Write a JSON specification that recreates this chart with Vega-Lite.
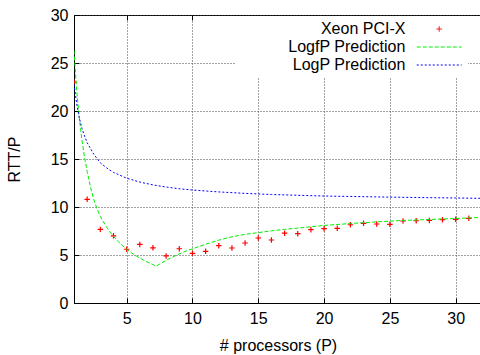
{
  "$schema": "https://vega.github.io/schema/vega-lite/v6.json",
  "width": 408,
  "height": 288,
  "autosize": {"type": "none"},
  "padding": {"left": 74, "top": 15, "right": 0, "bottom": 52},
  "background": "white",
  "data": {
    "values": [
      {"series": "Xeon PCI-X", "P": 1, "v": 23.0},
      {"series": "Xeon PCI-X", "P": 2, "v": 10.8},
      {"series": "Xeon PCI-X", "P": 3, "v": 7.67},
      {"series": "Xeon PCI-X", "P": 4, "v": 7.0},
      {"series": "Xeon PCI-X", "P": 5, "v": 5.6},
      {"series": "Xeon PCI-X", "P": 6, "v": 6.1},
      {"series": "Xeon PCI-X", "P": 7, "v": 5.75},
      {"series": "Xeon PCI-X", "P": 8, "v": 4.9},
      {"series": "Xeon PCI-X", "P": 9, "v": 5.65},
      {"series": "Xeon PCI-X", "P": 10, "v": 5.17},
      {"series": "Xeon PCI-X", "P": 11, "v": 5.38},
      {"series": "Xeon PCI-X", "P": 12, "v": 5.97},
      {"series": "Xeon PCI-X", "P": 13, "v": 5.73},
      {"series": "Xeon PCI-X", "P": 14, "v": 6.25},
      {"series": "Xeon PCI-X", "P": 15, "v": 6.77},
      {"series": "Xeon PCI-X", "P": 16, "v": 6.56},
      {"series": "Xeon PCI-X", "P": 17, "v": 7.27},
      {"series": "Xeon PCI-X", "P": 18, "v": 7.22},
      {"series": "Xeon PCI-X", "P": 19, "v": 7.64},
      {"series": "Xeon PCI-X", "P": 20, "v": 7.74},
      {"series": "Xeon PCI-X", "P": 21, "v": 7.78},
      {"series": "Xeon PCI-X", "P": 22, "v": 8.15},
      {"series": "Xeon PCI-X", "P": 23, "v": 8.3},
      {"series": "Xeon PCI-X", "P": 24, "v": 8.23},
      {"series": "Xeon PCI-X", "P": 25, "v": 8.2},
      {"series": "Xeon PCI-X", "P": 26, "v": 8.54},
      {"series": "Xeon PCI-X", "P": 27, "v": 8.57},
      {"series": "Xeon PCI-X", "P": 28, "v": 8.6},
      {"series": "Xeon PCI-X", "P": 29, "v": 8.68},
      {"series": "Xeon PCI-X", "P": 30, "v": 8.72},
      {"series": "Xeon PCI-X", "P": 31, "v": 8.82},

      {"series": "LogfP Prediction", "P": 1, "v": 26.3},
      {"series": "LogfP Prediction", "P": 1.2, "v": 22.2},
      {"series": "LogfP Prediction", "P": 1.4, "v": 19.3},
      {"series": "LogfP Prediction", "P": 1.6, "v": 17.0},
      {"series": "LogfP Prediction", "P": 1.8, "v": 15.2},
      {"series": "LogfP Prediction", "P": 2, "v": 13.7},
      {"series": "LogfP Prediction", "P": 2.25, "v": 12.1},
      {"series": "LogfP Prediction", "P": 2.5, "v": 10.8},
      {"series": "LogfP Prediction", "P": 2.75, "v": 9.8},
      {"series": "LogfP Prediction", "P": 3, "v": 9.0},
      {"series": "LogfP Prediction", "P": 3.5, "v": 7.85},
      {"series": "LogfP Prediction", "P": 4, "v": 6.95},
      {"series": "LogfP Prediction", "P": 4.5, "v": 6.2},
      {"series": "LogfP Prediction", "P": 5, "v": 5.6},
      {"series": "LogfP Prediction", "P": 5.5, "v": 5.1},
      {"series": "LogfP Prediction", "P": 6, "v": 4.68},
      {"series": "LogfP Prediction", "P": 6.5, "v": 4.32},
      {"series": "LogfP Prediction", "P": 7, "v": 4.0},
      {"series": "LogfP Prediction", "P": 7.2, "v": 3.82},
      {"series": "LogfP Prediction", "P": 7.5, "v": 4.05},
      {"series": "LogfP Prediction", "P": 8, "v": 4.45},
      {"series": "LogfP Prediction", "P": 8.5, "v": 4.8},
      {"series": "LogfP Prediction", "P": 9, "v": 5.12},
      {"series": "LogfP Prediction", "P": 9.5, "v": 5.4},
      {"series": "LogfP Prediction", "P": 10, "v": 5.65},
      {"series": "LogfP Prediction", "P": 11, "v": 6.12},
      {"series": "LogfP Prediction", "P": 12, "v": 6.55},
      {"series": "LogfP Prediction", "P": 13, "v": 6.9},
      {"series": "LogfP Prediction", "P": 14, "v": 7.15},
      {"series": "LogfP Prediction", "P": 15, "v": 7.33},
      {"series": "LogfP Prediction", "P": 16, "v": 7.52},
      {"series": "LogfP Prediction", "P": 17, "v": 7.67},
      {"series": "LogfP Prediction", "P": 18, "v": 7.8},
      {"series": "LogfP Prediction", "P": 19, "v": 7.94},
      {"series": "LogfP Prediction", "P": 20, "v": 8.08},
      {"series": "LogfP Prediction", "P": 22, "v": 8.28},
      {"series": "LogfP Prediction", "P": 24, "v": 8.45},
      {"series": "LogfP Prediction", "P": 26, "v": 8.6},
      {"series": "LogfP Prediction", "P": 28, "v": 8.7},
      {"series": "LogfP Prediction", "P": 30, "v": 8.8},
      {"series": "LogfP Prediction", "P": 32, "v": 8.92},

      {"series": "LogP Prediction", "P": 1, "v": 22.8},
      {"series": "LogP Prediction", "P": 1.2, "v": 20.8},
      {"series": "LogP Prediction", "P": 1.4, "v": 19.3},
      {"series": "LogP Prediction", "P": 1.6, "v": 18.2},
      {"series": "LogP Prediction", "P": 1.8, "v": 17.4},
      {"series": "LogP Prediction", "P": 2, "v": 16.7},
      {"series": "LogP Prediction", "P": 2.5, "v": 15.5},
      {"series": "LogP Prediction", "P": 3, "v": 14.6},
      {"series": "LogP Prediction", "P": 3.5, "v": 14.05},
      {"series": "LogP Prediction", "P": 4, "v": 13.6},
      {"series": "LogP Prediction", "P": 5, "v": 13.0},
      {"series": "LogP Prediction", "P": 6, "v": 12.6},
      {"series": "LogP Prediction", "P": 7, "v": 12.3},
      {"series": "LogP Prediction", "P": 8, "v": 12.08},
      {"series": "LogP Prediction", "P": 9, "v": 11.9},
      {"series": "LogP Prediction", "P": 10, "v": 11.77},
      {"series": "LogP Prediction", "P": 12, "v": 11.57},
      {"series": "LogP Prediction", "P": 14, "v": 11.42},
      {"series": "LogP Prediction", "P": 16, "v": 11.3},
      {"series": "LogP Prediction", "P": 18, "v": 11.22},
      {"series": "LogP Prediction", "P": 20, "v": 11.14},
      {"series": "LogP Prediction", "P": 22, "v": 11.1},
      {"series": "LogP Prediction", "P": 24, "v": 11.05},
      {"series": "LogP Prediction", "P": 26, "v": 11.01},
      {"series": "LogP Prediction", "P": 28, "v": 10.97},
      {"series": "LogP Prediction", "P": 30, "v": 10.94},
      {"series": "LogP Prediction", "P": 32, "v": 10.9}
    ]
  },
  "config": {
    "font": "Liberation Sans",
    "view": {"stroke": "black", "strokeWidth": 1},
    "axis": {
      "labelFont": "Liberation Sans",
      "labelFontSize": 16,
      "labelColor": "black",
      "titleFont": "Liberation Sans",
      "titleFontSize": 16,
      "titleFontWeight": "normal",
      "titleColor": "black",
      "domainColor": "black",
      "tickColor": "black",
      "gridColor": "#444444",
      "gridDash": [1, 2],
      "gridOpacity": 1
    },
    "legend": {
      "labelFont": "Liberation Sans",
      "labelFontSize": 16,
      "labelColor": "black"
    }
  },
  "layer": [
    {
      "transform": [{"filter": "datum.series === 'Xeon PCI-X'"}],
      "mark": {"type": "point", "filled": false, "size": 276, "strokeWidth": 1.2, "opacity": 1, "clip": true},
      "encoding": {
        "x": {"field": "P", "type": "quantitative",
          "scale": {"domain": [1, 32], "nice": false, "zero": false},
          "axis": {"orient": "bottom", "values": [5, 10, 15, 20, 25, 30], "title": "# processors (P)", "grid": true,
            "tickSize": -5, "labelPadding": 12, "titlePadding": 11, "domain": true, "labelFlush": false}},
        "y": {"field": "v", "type": "quantitative",
          "scale": {"domain": [0, 30], "nice": false, "zero": false},
          "axis": {"orient": "left", "values": [0, 5, 10, 15, 20, 25, 30], "title": "RTT/P", "grid": true,
            "tickSize": -5, "labelPadding": 11, "titlePadding": 28, "domain": true, "labelFlush": false}},
        "color": {"field": "series", "type": "nominal",
          "scale": {"domain": ["Xeon PCI-X", "LogfP Prediction", "LogP Prediction"], "range": ["#ff0000", "#00ee00", "#0000ff"]},
          "legend": {
            "title": null, "orient": "none", "legendX": 162, "legendY": 1,
            "labelAlign": "right", "labelOffset": -42.8, "symbolOffset": 190.2, "symbolSize": 276,
            "rowPadding": 1, "padding": 4, "fillColor": "white", "symbolStrokeWidth": 1
          }},
        "shape": {"field": "series", "type": "nominal",
          "scale": {"domain": ["Xeon PCI-X", "LogfP Prediction", "LogP Prediction"],
            "range": ["M-0.33,0L0.33,0M0,-0.33L0,0.33", "M-2.7,0L2.7,0", "M-2.7,0L2.7,0"]},
          "legend": {
            "title": null, "orient": "none", "legendX": 162, "legendY": 1,
            "labelAlign": "right", "labelOffset": -42.8, "symbolOffset": 190.2, "symbolSize": 276,
            "rowPadding": 1, "padding": 4, "fillColor": "white", "symbolStrokeWidth": 1
          }}
      }
    },
    {
      "transform": [{"filter": "datum.series !== 'Xeon PCI-X'"}],
      "mark": {"type": "line", "strokeWidth": 1, "clip": true},
      "encoding": {
        "x": {"field": "P", "type": "quantitative",
          "axis": {"orient": "top", "values": [5, 10, 15, 20, 25, 30], "labels": false, "title": null, "grid": false, "domain": false, "tickSize": -5}},
        "y": {"field": "v", "type": "quantitative", "axis": null},
        "color": {"field": "series", "type": "nominal"},
        "strokeDash": {"field": "series", "type": "nominal",
          "scale": {"domain": ["Xeon PCI-X", "LogfP Prediction", "LogP Prediction"], "range": [[1, 0], [4, 2], [2, 2]]},
          "legend": {
            "title": null, "orient": "none", "legendX": 162, "legendY": 1,
            "labelAlign": "right", "labelOffset": -42.8, "symbolOffset": 190.2, "symbolSize": 276,
            "rowPadding": 1, "padding": 4, "fillColor": "white", "symbolStrokeWidth": 1
          }}
      }
    }
  ],
  "resolve": {"axis": {"x": "independent", "y": "independent"}}
}
